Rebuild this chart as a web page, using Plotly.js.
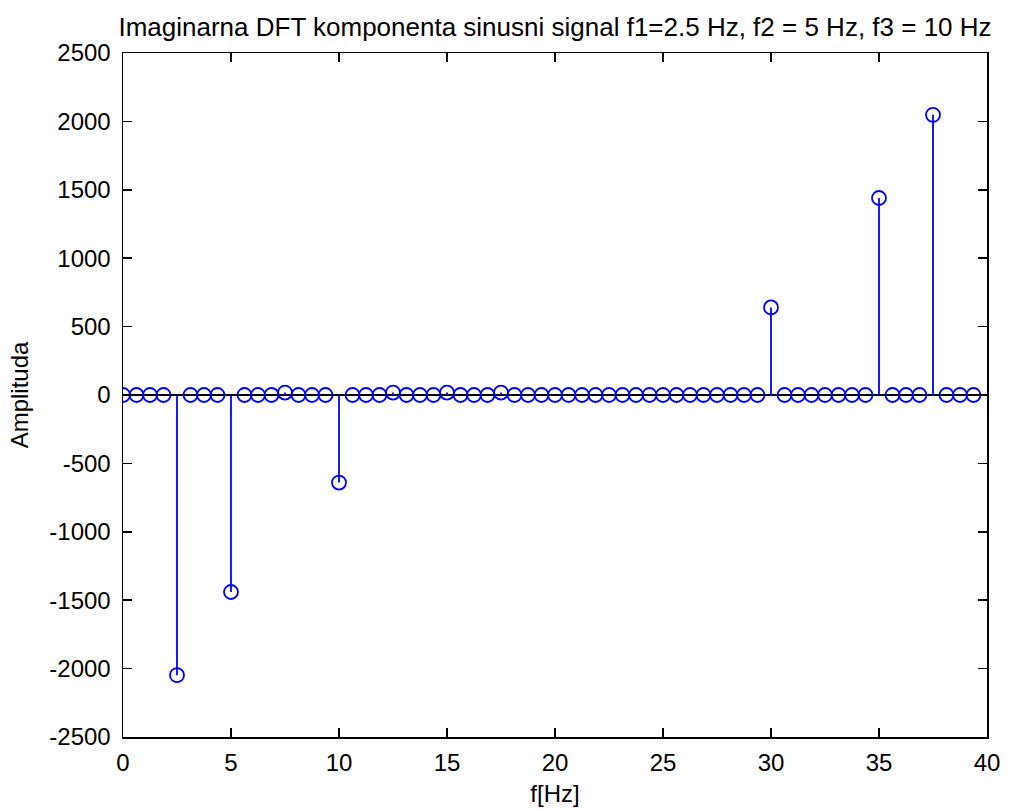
<!DOCTYPE html>
<html>
<head>
<meta charset="utf-8">
<script src="https://cdn.plot.ly/plotly-3.0.1.min.js"></script>
<style>html,body{margin:0;padding:0;background:#fff;}#chart{width:1010px;height:811px;}</style>
</head>
<body>
<div id="chart"></div>
<script>
var freqs = [0, 0.625, 1.25, 1.875, 2.5, 3.125, 3.75, 4.375, 5, 5.625, 6.25, 6.875, 7.5, 8.125, 8.75, 9.375,
  10, 10.625, 11.25, 11.875, 12.5, 13.125, 13.75, 14.375, 15, 15.625, 16.25, 16.875, 17.5, 18.125, 18.75, 19.375,
  20, 20.625, 21.25, 21.875, 22.5, 23.125, 23.75, 24.375, 25, 25.625, 26.25, 26.875, 27.5, 28.125, 28.75, 29.375,
  30, 30.625, 31.25, 31.875, 32.5, 33.125, 33.75, 34.375, 35, 35.625, 36.25, 36.875, 37.5, 38.125, 38.75, 39.375];
var amplitude = [0, 0, 0, 0, -2048, 0, 0, 0, -1440, 0, 0, 0, 18, 0, 0, 0,
  -640, 0, 0, 0, 18, 0, 0, 0, 18, 0, 0, 0, 18, 0, 0, 0,
  0, 0, 0, 0, 0, 0, 0, 0, 0, 0, 0, 0, 0, 0, 0, 0,
  640, 0, 0, 0, 0, 0, 0, 0, 1440, 0, 0, 0, 2048, 0, 0, 0];
var xTicks = [0, 5, 10, 15, 20, 25, 30, 35, 40];
var yTicks = [-2500, -2000, -1500, -1000, -500, 0, 500, 1000, 1500, 2000, 2500];
var titleText = "Imaginarna DFT komponenta sinusni signal f1=2.5 Hz, f2 = 5 Hz, f3 = 10 Hz";
var xLabel = "f[Hz]";
var yLabel = "Amplituda";

var stemX = [], stemY = [];
for (var i = 0; i < freqs.length; i++) {
  stemX.push(freqs[i], freqs[i], null);
  stemY.push(0, amplitude[i], null);
}
var blue = "#0000ff";
var traces = [
  {x: stemX, y: stemY, mode: "lines", type: "scatter", line: {color: blue, width: 1.8}, hoverinfo: "skip", showlegend: false},
  {x: freqs, y: amplitude, mode: "markers", type: "scatter",
   marker: {symbol: "circle-open", size: 14, color: blue, line: {width: 1.8, color: blue}}, showlegend: false}
];
var fnt = "Liberation Sans, Arial, sans-serif";
var fs = 24;
var layout = {
  width: 1010, height: 811,
  margin: {l: 123, r: 23, t: 53, b: 74, pad: 0},
  paper_bgcolor: "#fff", plot_bgcolor: "#fff",
  font: {family: fnt, size: fs, color: "#000"},
  title: {text: titleText, x: 555/1010, xanchor: "center", y: 1 - 27/811, yanchor: "middle", font: {family: fnt, size: 26, color: "#000"}},
  xaxis: {range: [0, 40], tickvals: xTicks, ticktext: xTicks.map(String), ticks: "inside", ticklen: 9, tickwidth: 1.5, tickcolor: "#000",
    showline: true, linecolor: "#000", linewidth: 1.5, mirror: "ticks", showgrid: false, zeroline: false,
    ticklabelstandoff: 4,
    title: {text: xLabel, standoff: 10, font: {family: fnt, size: fs}}, tickfont: {family: fnt, size: fs}},
  yaxis: {range: [-2500, 2500], tickvals: yTicks, ticktext: yTicks.map(String), ticks: "inside", ticklen: 9, tickwidth: 1.5, tickcolor: "#000",
    showline: true, linecolor: "#000", linewidth: 1.5, mirror: "ticks", showgrid: false,
    zeroline: true, zerolinecolor: "#000", zerolinewidth: 2,
    ticklabelstandoff: 6,
    title: {text: yLabel, standoff: 14, font: {family: fnt, size: fs}}, tickfont: {family: fnt, size: fs}},
  showlegend: false
};
Plotly.newPlot("chart", traces, layout, {displayModeBar: false, staticPlot: true});
</script>
</body>
</html>
